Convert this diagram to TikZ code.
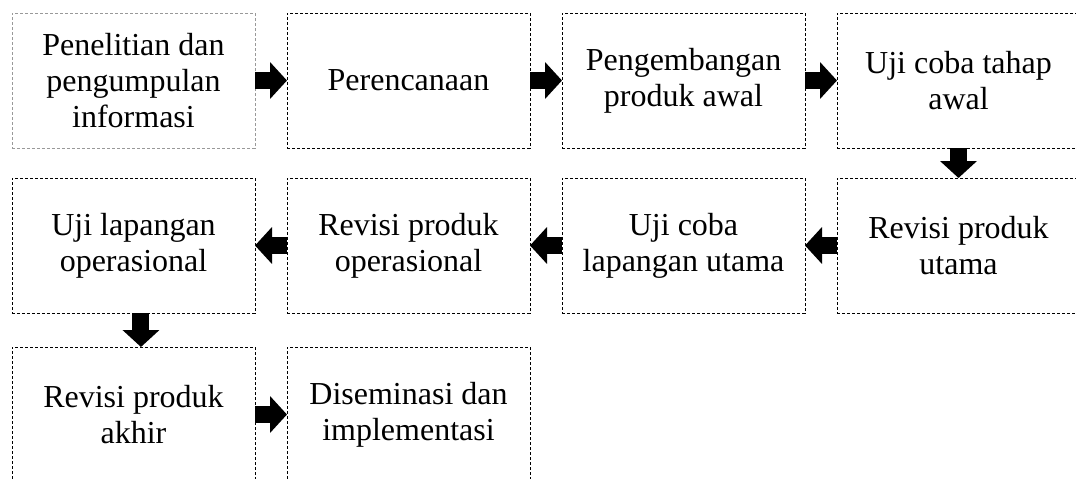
\documentclass[tikz,border=0pt]{standalone}
\usepackage{fontspec}
\setmainfont{Liberation Serif}
\usetikzlibrary{positioning}
\usetikzlibrary{arrows.meta}

\begin{document}
\begin{tikzpicture}[
        node distance=24pt,
        stage/.style={draw, rectangle, line width=0.6pt, dash pattern=on 2.25pt off 1.5pt,
            minimum width=182.25pt, minimum height=101.25pt, inner sep=0pt, outer sep=0pt,
            align=center, font=\fontsize{24pt}{27pt}\selectfont},
        blockarrow/.style={line width=12.75pt, -{Triangle[length=12.75pt, width=27pt]}},
    ]
        \useasboundingbox (-9pt, 9.75pt) rectangle (798pt, -349.5pt);

        \node[stage, draw=black!40, anchor=north west] (riset) at (0, 0) {Penelitian dan\\pengumpulan\\informasi};
        \node[stage] (plan) [right=of riset] {Perencanaan};
        \node[stage] (dev) [right=of plan] {Pengembangan\\produk awal};
        \node[stage] (trial) [right=of dev] {Uji coba tahap\\awal};

        \node[stage] (rev1) [below=22.5pt of trial] {Revisi produk\\utama};
        \node[stage] (field) [left=of rev1] {Uji coba\\lapangan utama};
        \node[stage] (rev2) [left=of field] {Revisi produk\\operasional};
        \node[stage] (opfield) [left=of rev2] {Uji lapangan\\operasional};

        \node[stage] (rev3) [below=25.5pt of opfield] {Revisi produk\\akhir};
        \node[stage] (dissem) [right=of rev3] {Diseminasi dan\\implementasi};

        \begin{scope}[blockarrow]
            \draw (riset) -- (plan);
            \draw (plan) -- (dev);
            \draw (dev) -- (trial);
            \draw (trial) -- (rev1);

            \draw (rev1) -- (field);
            \draw (field) -- (rev2);
            \draw (rev2) -- (opfield);
            \draw ([xshift=5.6pt]opfield.south) -- ([xshift=5.6pt]rev3.north);

            \draw (rev3) -- (dissem);
        \end{scope}

    \end{tikzpicture}
\end{document}
